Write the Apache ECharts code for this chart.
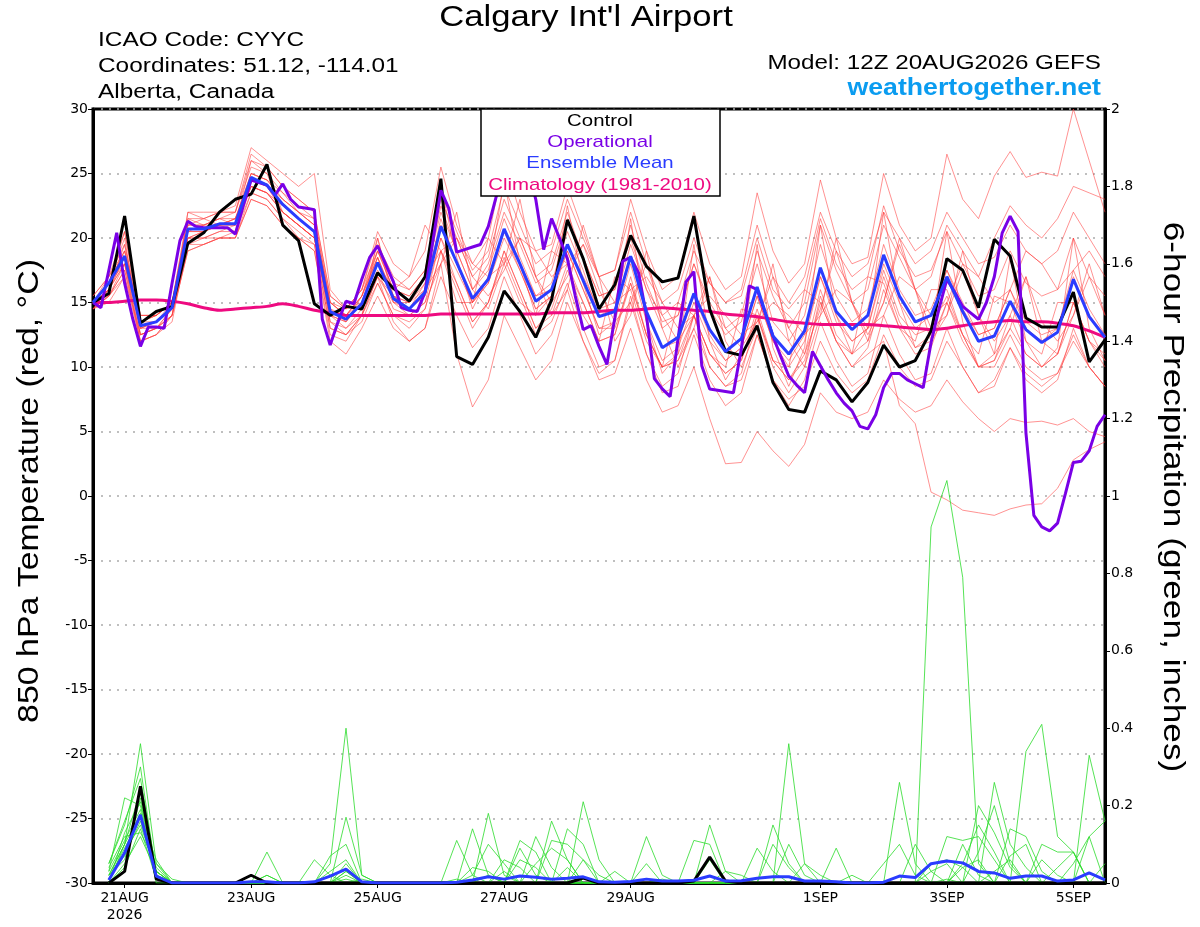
<!DOCTYPE html>
<html>
<head>
<meta charset="utf-8">
<title>Calgary Int'l Airport - GEFS meteogram</title>
<script src="https://cdn.jsdelivr.net/npm/echarts@6/dist/echarts.min.js"></script>
<style>
  html, body { margin: 0; padding: 0; background: #fff; }
  #chart { width: 1200px; height: 927px; }
</style>
</head>
<body>
<div id="chart"></div>
<script>
// x = 6-hour steps from 12Z 20AUG2026 (0) to 12Z 5SEP2026 (64)
const tickSteps = [2, 10, 18, 26, 34, 46, 54, 62];
const tickLabels = ['21AUG\n2026', '23AUG', '25AUG', '27AUG', '29AUG', '1SEP', '3SEP', '5SEP'];

// 850 hPa temperature, deg C, 6-hourly
const control = [15.0,15.7,21.7,13.4,14.3,14.7,19.6,20.4,22.0,23.0, 23.4,25.7,21.0,19.8,14.9,14.0,14.7,14.5,17.3,16.1,
  15.1,17.0,24.6,10.8,10.2,12.3,15.9,14.3,12.3,15.2, 21.4,18.4,14.5,16.4,20.2,17.8,16.6,16.9,21.7,14.5,
  11.2,10.9,13.2,8.8,6.7,6.5,9.7,9.0,7.3,8.8, 11.7,10.0,10.5,12.8,18.4,17.5,14.6,19.9,18.6,13.8, 13.1,13.1,15.8,10.4,12.1];
const ensMean = [15.0,16.5,18.6,13.2,13.5,14.6,20.7,20.7,21.1,21.1, 24.7,24.1,22.6,21.5,20.5,14.3,13.7,14.9,18.1,15.3,
  14.5,15.8,20.9,18.1,15.3,16.8,20.7,18.0,15.1,16.0, 19.5,16.7,13.9,14.3,18.6,14.3,11.5,12.3,15.7,12.9,
  11.2,12.2,16.2,12.4,11.0,12.8,17.7,14.3,12.9,14.0, 18.7,15.5,13.5,14.0,17.0,14.3,12.0,12.4,15.1,12.9, 11.9,12.7,16.8,13.9,12.3];
const climo = [15.0,15.0,15.1,15.2,15.2,15.1,14.9,14.6,14.4,14.5, 14.6,14.7,14.9,14.7,14.4,14.2,14.0,14.0,14.0,14.0,
  14.0,14.0,14.1,14.1,14.1,14.1,14.1,14.1,14.1,14.2, 14.2,14.2,14.3,14.4,14.4,14.5,14.6,14.5,14.4,14.3,
  14.1,14.0,13.9,13.7,13.5,13.4,13.3,13.3,13.3,13.3, 13.2,13.1,13.0,12.9,13.0,13.2,13.4,13.5,13.6,13.5, 13.5,13.4,13.2,12.8,12.3];
// operational run, 3-hourly
const operational = [15.0,14.6,17.5,20.4,16.5,13.8,11.6,13.1,13.1,13.0, 16.5,19.8,21.3,20.9,20.8,20.8,20.8,20.8,20.3,22.5,
  24.5,24.3,24.1,23.3,24.2,23.0,22.4,22.3,22.2,13.7, 11.7,13.5,15.1,14.9,16.8,18.5,19.4,18.0,16.6,14.6,
  14.4,14.3,15.8,19.8,23.7,22.3,18.9,19.1,19.3,19.5, 20.9,23.2,25.5,27.0,27.5,25.5,23.0,19.1,21.5,20.0,
  18.4,15.5,12.9,13.2,11.6,10.2,13.8,18.2,18.5,17.3, 14.0,9.1,8.3,7.7,12.2,16.6,17.4,10.1,8.3,8.2,
  8.1,8.0,11.4,16.3,16.0,14.2,12.4,10.8,9.3,8.6, 8.0,11.2,10.1,9.0,8.0,7.2,6.6,5.4,5.2,6.3,
  8.4,9.5,9.5,9.0,8.7,8.4,11.9,14.5,16.8,15.8, 14.7,14.2,13.7,15.0,17.0,20.4,21.7,20.5,4.9,-1.5,
  -2.4,-2.7,-2.1,0.2,2.6,2.7,3.5,5.4,6.3];

// ensemble members, 850 hPa temperature
const memA = [15,16,19.5,13,13.5,14.5,21,21,21.5,22, 25.5,25,23.5,22,21,14.5,13.5,15,19,16, 15.5,17,22.5,19,16,18,22,19.5,16.5,17.5,
  21.5,18.5,15.5,16,20,16,13,14,18,15, 13,14,19,15.5,13,15,21,17.5,15,16, 21,18.5,16,17,21,19,17,20,22.5,21, 20,21.5,24,23.5,23];
const memB = [14.5,15.5,17,12.5,13,14,19,19.5,20,20.5, 23.5,23,21.5,20,19.5,13,12.5,14,16.5,14, 13.5,14.5,19,16,13,15,19,16,13,14,
  17.5,15,12,12.5,16.5,12.5,10,11,14,11, 9.5,10.5,14,10.5,9,10.5,15,12,10,11, 12,7,5.6,0.3,-0.3,-1.1,-1.3,-1.5,-1.0,-0.7, -0.6,0.6,2.8,3.6,4.2];
const memC = [15,16.5,18,12,12.5,14,19.5,20,20,20, 23,22.5,21,20,19,12,11,13,15.5,13, 12,13,17,14,11.5,13,17,14,11,12.5,
  16,12,9,9.5,13,9,6.5,7,10,6, 2.5,2.6,5,3.5,2.3,4,8,6.5,6,6.5, 9,7.5,6.5,7,9,7.3,6,5,6,5.7, 5.8,5.5,6,5,4.6];
const memD = [15.5,17,20.5,14,14,15,22,22,22,22.5, 27,26,25,24,25,16,14.5,16,20.5,18, 17,19,25.5,21,18,20,26,22,19,19.5,
  24,20.5,17,17.5,23,19,16,17,22,18, 16,17,23.5,19,16.5,18,24.5,20,18,18.5, 25,21,19,20,26.5,23,21.5,24.8,26.7,24.7, 25.1,24.8,30,26,22];
const memE = [15,17,19,14,14,15,21.5,21,21.5,21.5, 25,24.5,23,22,21,15,14,15.5,19,16.5, 16,17.5,23,20,17,18.5,23,20,17,18,
  22,18.5,15.5,16,21,16.5,13.5,14,18,14.5, 12.5,13.5,18,13.5,12,14,19.5,15.5,13.5,14.5, 19.5,16,14,14.5,17.5,15,12.5,13,16,13, 12,13,17,14,12.5];
const memF = [14.5,15.5,17.5,12,12.5,13.5,19.5,19.5,20,20, 23.5,23,21.5,20.5,19.5,13,12.5,13.5,16.5,14, 13,14.5,19,16.5,13.5,15,19,16,13,14.5,
  18,15,12,12.5,17,12.5,10,10.5,14,11, 9.5,10.5,14.5,10.5,9,11,16,12.5,11,12, 17,13.5,11.5,12,15,12.5,10,10.5,13,11, 10,11,15,12,10.5];
const memG = [15,16.5,20,12.5,13,14,22,21.5,21,21, 26,25,22,21,20,13.5,13,14,20,15, 14,15,18,22,16,14.5,18,23,17,14,
  16,21,17,12,14,19,13,10,13,17, 12,10,13,18,12,10,14,20,15,12, 15,20,16,12,14,19,14,11,13,17, 12,11,14,18,14];
const memH = [14.5,16,18,13.5,14,15,20,20.5,21,21, 24,23.5,22.5,21.5,20.5,15,14.5,15,17,15.5, 15,16,18,20,17,15.5,17.5,20,17,15,
  17,19.5,16,13.5,15,18,14,12,14,17, 13,11.5,13.5,17,13,11,14.5,19,15,12.5, 15,19.5,16,13,14,17.5,14,12,14,17, 13.5,12,14,17,14];
const memI = [15,16,18.5,13,13,14.5,20.5,20.5,21,20.5, 24.5,24,22,21,20,14,13,14.5,17.5,14.5, 14,15,20,16.5,13.5,15,18.5,15.5,12.5,13.5,
  16.5,13,10,10.5,15,11,8,8.5,12.5,9, 7,8,12.5,9,7,9,13.5,10.5,8.5,9.5, 14,11,9,9.5,13,10,8,8.5,11.5,9, 8,9,13,10,8.5];
const memJ = [15,16.5,19,13.5,14,15,21,21,21,21.5, 25,24.5,23,22,21.5,15,14,15.5,19.5,17, 16,17.5,23.5,20.5,17.5,19,24,21,18,19,
  23,20,17,17.5,22,18,15,16,20,16.5, 15,15.5,20,16,14.5,16,21.5,18,16,17, 22.5,19,17,17.5,20.5,18,15.5,16,19,16.5, 15.5,16,20,17,15.5];
const memK = [14.5,15,17,12,12.5,14,19,19.5,20,20, 23,22.5,21,20,19,12.5,12,14,17,15, 15,17,19,20,18,17,18,20,19,17,
  18,19.5,17,15,16,17,15,13,14,15.5, 14,12.5,13.5,15,14,12.5,14,16,15,13, 14,17,16,14,15,18,17,15,16,19, 18,16,17.5,19,17];
const memL = [15,16,18,13,13.5,15,20,20.5,21,21.5, 24,23.5,22,21,20,14,13.5,15.5,18.5,15.5, 15,16.5,21,18,15,17,20.5,17.5,14.5,15.5,
  19,16,13,13.5,18,13.5,10.5,11.5,15,12, 10.5,11.5,15.5,12,10,12,17,13.5,12,13, 17.5,14,12.5,13,15.5,12.5,10,10,12.5,10, 9,9.5,12.5,10,8.5];
const memM = [15.5,17,19.5,14,14,15,21,21.5,22,22, 26,25.5,24,23,22,15.5,14.5,16,19,16, 17,21,19,15,15,20,18,15,14,19,
  18,14,12,17,16,12,10,15,14,11, 10,14.5,14,10.5,10,16,15,12,11,17, 16.5,13,12,16,16,12.5,11,15.5,15,12, 11,15,15,12,11];
const memN = [14.5,15.5,18,12.5,13,14,20,20,20.5,20.5, 24,23.5,22,21,20,13.5,12.5,14,17,13.5, 12,13,18,11,6.9,9,14,11.5,9,10.5,
  15,12,9.5,10.5,15.5,11,8.5,9.5,14,10, 8.5,9.5,14,10,8,10,15.5,12,10,11.5, 16,13,11,11.5,15,12,10,10.5,14,11, 10,11,15,12,10];
const memO = [15,16.5,19,13.5,13.5,14.5,20.5,21,21.5,21, 25,24.5,23.5,22.5,21.5,15,14,15,18.5,15.5, 14.5,16,21.5,18,15,16.5,20,17.5,14.5,15.5,
  19.5,17,14.5,15,19.5,16,14,15,19,16.5, 15,16,21,17,15,17,22,19,17,18, 22,20,18,19,22,20,18,18.5,21,19, 18,19,22,20,18];
const memP = [15,15.5,17.5,12.5,13,14.5,20,20,20.5,21, 24,23.5,22,21,20,14,13.5,15,18,16, 15.5,17,22,19,16,17.5,21.5,18.5,15.5,16.5,
  20.5,17.5,14,14.5,18.5,14,11.5,12,15.5,12.5, 10.5,11.5,15.5,12,10.5,12.5,17,14,12,13, 18,15,13,14,17.5,14.5,12.5,13,16,13.5, 12.5,13,17.5,14.5,12.5];
const memQ = [14.5,16,18.5,13,13.5,14.5,20.5,20.5,21,21.5, 24.5,24,23,22,21,14.5,14,15.5,18.5,15, 14.5,15.5,20,17.5,15,16.5,20.5,18,15.5,16,
  19,16,13,13,16.5,12.5,10,10.5,13,10, 8.5,9,12.5,9,7.5,8.5,12,9.5,8,9, 12.5,10,8.5,9,12,10,8,9,11.5,9.5, 8.5,9.5,12,10,8.5];
const memR = [15,16.5,20.5,13.5,14,15,21.5,21.5,22,22, 26.5,25.5,24,23,22,15.5,14.5,16,20,15.5, 14.5,16.5,24,18.5,14.5,17,24.5,18,14,15.5,
  22.5,16.5,12.5,13.5,21.5,13.5,9.5,11,19.5,12, 9,11,19.5,11.5,8.5,11.5,21,14,11,13, 22,15,11.5,12.5,20.5,13.5,10,11,18.5,12, 10,11.5,20,13,10.5];
const tempMembers = [memA, memB, memC, memD, memE, memF, memG, memH, memI, memJ, memK, memL, memM, memN, memO, memP, memQ, memR];

// 6-hour precipitation, inches (first step has none)
const controlPcp = [null,0,.03,.25,.01,0,0,0,0,0, .02,0,0,0,0,0,0,0,0,0, 0,0,0,0,0,0,0,0,0,0, 0,.013,0,0,0,0,0,0,.005,.067,
  .005,0,0,0,0,0,0,0,0,0, 0,0,0,0,0,0,0,0,0,0, 0,0,0,0,0];
const meanPcp = [null,.008,.078,.176,.018,0,0,0,0,0, .003,.003,0,0,.003,.018,.036,.003,0,0, 0,0,0,.002,.008,.016,.01,.018,.015,.01,
  .012,.016,.003,.002,.004,.01,.005,.005,.007,.018, .005,.006,.012,.016,.016,.005,.005,.003,0,0, .002,.018,.014,.05,.057,.052,.03,.026,.012,.018,
  .018,.005,.008,.026,.008];
const pcp01 = [null,.02,.1,.36,.05,0,0,0,0,0, 0,0,0,0,0,.05,.4,.02,0,0, 0,0,0,0,0,.02,0,0,0,0, 0,0,0,0,0,0,0,0,0,0, 0,0,0,0,0,0,0,0,0,0, 0,0,0,.92,1.04,.79,.05,0,0,0, 0,0,0,0,0];
const pcp02 = [null,.03,.22,.2,.02,0,0,0,0,0, 0,.08,0,0,0,0,.17,.02,0,0, 0,0,0,0,.14,.02,0,0,0,0, 0,0,0,0,0,0,0,0,0,0, 0,0,0,0,.36,.05,0,0,0,0, 0,0,0,0,0,0,0,0,0,.34, .41,.12,.08,0,0];
const pcp03 = [null,.05,.16,.27,.03,0,0,0,0,0, 0,0,0,0,0,.07,.1,0,0,0, 0,0,0,0,0,.18,.02,0,0,0, 0,.21,.06,0,0,0,0,0,0,0, 0,0,0,0,0,0,0,0,0,0, 0,.26,.05,0,0,0,0,0,0,0, 0,0,0,.33,.16];
const pcp04 = [null,.02,.1,.18,.04,0,0,0,0,0, 0,0,0,0,.06,.02,0,0,0,0, 0,0,0,.11,.02,0,0,0,0,.16, .06,0,0,0,0,0,0,0,0,.15, .03,0,0,0,0,0,0,0,0,0, 0,0,0,0,0,0,0,.26,.1,.04, 0,0,0,0,0];
const pcp05 = [null,.01,.08,.15,.03,0,0,0,0,0, 0,0,0,0,0,0,.05,0,0,0, 0,0,0,0,0,0,0,.11,.08,0, 0,0,0,0,0,.12,.02,0,0,0, 0,0,0,.15,.05,0,0,0,0,0, 0,0,0,0,0,0,.2,.13,.04,0, 0,0,0,0,0];
const pcp06 = [null,.04,.12,.13,.05,.01,0,0,0,0, 0,.02,0,0,0,0,0,0,0,0, 0,0,0,0,0,0,.06,.04,0,0, 0,0,0,0,0,0,0,0,.11,.1, 0,0,0,0,0,0,0,0,0,0, 0,0,0,0,.12,.11,.12,.06,0,0, 0,0,0,.12,.16];
const pcp07 = [null,.02,.06,.22,.02,0,0,0,0,0, 0,0,0,0,0,0,.02,0,0,0, 0,0,0,0,.02,.1,.05,0,0,0, .14,.1,0,0,0,0,0,0,0,0, 0,0,0,0,0,0,0,.09,0,0, 0,0,0,0,0,.05,.15,.08,0,0, .1,.08,.08,0,0];
const pcp08 = [null,.03,.11,.19,0,0,0,0,0,0, 0,0,0,0,0,0,.03,0,0,0, 0,0,0,0,0,0,0,0,.05,.09, .06,0,0,0,0,0,0,0,0,0, 0,0,.09,.03,0,0,0,0,0,0, 0,0,0,.03,.05,0,0,0,.07,.1, 0,0,0,0,0];
const pcp09 = [null,0,.05,.12,.03,0,0,0,0,0, 0,0,0,0,0,.03,.06,0,0,0, 0,0,0,0,0,0,0,.06,.04,0, 0,0,0,.03,0,0,0,0,0,0, 0,0,0,0,0,.05,.02,0,0,0, .05,.1,.02,0,0,0,0,0,0,0, 0,0,.05,.12,0];
const pcp10 = [null,.01,.09,.17,.06,0,0,0,0,0, 0,0,0,0,0,0,0,0,0,0, 0,0,0,0,0,0,.03,0,0,0, 0,.06,.02,0,0,0,0,0,0,.06, 0,0,0,0,0,0,0,0,0,0, 0,0,.1,.03,0,0,.08,.2,.05,0, 0,0,0,0,0];
const pcp11 = [null,0,.13,.21,.02,0,0,0,0,0, 0,0,0,0,0,0,.01,0,0,0, 0,0,0,0,0,0,0,0,0,.11, .1,.06,0,0,0,0,0,0,0,0, 0,0,0,.1,.04,0,0,0,0,0, 0,0,0,0,.01,0,0,0,0,0, .06,.02,0,0,0];
const pcp12 = [null,.05,.15,.3,.02,0,0,0,0,0, 0,.02,0,0,0,0,0,0,0,0, 0,0,0,0,.04,.03,0,0,0,0, 0,0,0,0,0,0,.01,0,0,0, 0,0,0,0,0,0,0,0,0,0, 0,0,0,0,0,.04,.06,0,.14,.12, .03,0,0,0,0];
const pcp13 = [null,0,.04,.14,.01,0,0,0,0,0, 0,0,0,0,0,0,0,.01,0,0, 0,0,0,0,0,0,0,.09,.02,0, 0,0,0,0,0,.05,0,0,0,0, 0,0,0,0,0,0,0,0,.02,0, 0,0,0,.05,.06,.04,0,0,0,0, 0,0,0,0,.05];
const pcp14 = [null,.02,.07,.16,.03,0,0,0,0,0, 0,0,0,0,0,0,0,0,0,0, 0,0,0,.01,0,0,0,0,0,0, .04,0,0,0,0,0,0,0,0,0, .03,.02,0,0,0,0,0,0,0,0, 0,0,0,0,0,0,0,.03,.06,0, 0,0,0,0,0];
const pcp15 = [null,0,.1,.24,.02,0,0,0,0,0, 0,0,0,0,0,0,.03,0,0,0, 0,0,0,0,0,0,0,0,.12,.04, 0,0,0,0,0,0,0,0,0,0, 0,0,0,0,.1,.02,0,0,0,0, 0,0,0,0,0,.1,.02,0,0,0, 0,.04,.08,0,0];
const pcpMembers = [pcp01, pcp02, pcp03, pcp04, pcp05, pcp06, pcp07, pcp08, pcp09, pcp10, pcp11, pcp12, pcp13, pcp14, pcp15];

const FONT = "'Liberation Sans', Arial, Helvetica, sans-serif";
const TICK_FONT = "'DejaVu Sans', 'Liberation Sans', sans-serif";
const COL_OPER = '#7a00e6';
const COL_MEAN = '#2a3cff';
const COL_CLIMO = '#ee0a80';

const pts6 = arr => arr.map((v, i) => [i, v]).filter(p => p[1] !== null);
const pts3 = arr => arr.map((v, j) => [j / 2, v]);

// text drawn as graphic so it can be widened like the original's X11 Helvetica
const label = (text, x, y, size, sx, opts) => Object.assign({
  type: 'text', x: x, y: y, scaleX: sx, z: 101,
  style: { text: text, font: size + 'px ' + FONT, fill: '#000', align: 'left', verticalAlign: 'middle' }
}, opts || {});

const series = [];
tempMembers.forEach((m, k) => {
  series.push({
    name: 't' + k, type: 'line', data: pts6(m), symbol: 'none', silent: true, z: 2,
    lineStyle: { color: '#ff3c3c', width: 0.7, opacity: 0.8 }
  });
});
pcpMembers.forEach((m, k) => {
  series.push({
    name: 'p' + k, type: 'line', yAxisIndex: 1, data: pts6(m), symbol: 'none', silent: true, z: 2,
    lineStyle: { color: '#2bdc2b', width: 0.8 }
  });
});
series.push(
  { name: 'ctlPcp', type: 'line', yAxisIndex: 1, data: pts6(controlPcp), symbol: 'none', z: 3,
    lineStyle: { color: '#000', width: 3 } },
  { name: 'meanPcp', type: 'line', yAxisIndex: 1, data: pts6(meanPcp), symbol: 'none', z: 3,
    lineStyle: { color: COL_MEAN, width: 3 } },
  { name: 'Climatology', type: 'line', data: pts6(climo), symbol: 'none', z: 3, smooth: 0.3,
    lineStyle: { color: COL_CLIMO, width: 3 } },
  { name: 'Control', type: 'line', data: pts6(control), symbol: 'none', z: 4,
    lineStyle: { color: '#000', width: 3 } },
  { name: 'Operational', type: 'line', data: pts3(operational), symbol: 'none', z: 4,
    lineStyle: { color: COL_OPER, width: 3 } },
  { name: 'Ensemble Mean', type: 'line', data: pts6(ensMean), symbol: 'none', z: 5,
    lineStyle: { color: COL_MEAN, width: 3 } }
);

const chart = echarts.init(document.getElementById('chart'));
chart.setOption({
  animation: false,
  backgroundColor: '#fff',
  textStyle: { fontFamily: FONT },
  grid: { left: 93, right: 95, top: 109, bottom: 44, show: true, borderColor: '#000', borderWidth: 3 },
  xAxis: {
    type: 'value', min: 0, max: 64,
    axisLine: { show: true, onZero: false, lineStyle: { color: '#000', width: 3 } },
    axisTick: { show: true, customValues: tickSteps, length: 5, lineStyle: { color: '#000', width: 1 } },
    axisLabel: {
      customValues: tickSteps, color: '#000', fontSize: 14, fontFamily: TICK_FONT, margin: 7, lineHeight: 17,
      formatter: v => tickLabels[tickSteps.indexOf(v)] || ''
    },
    splitLine: { show: false }
  },
  yAxis: [
    {
      type: 'value', min: -30, max: 30, interval: 5, position: 'left',
      axisLine: { show: true, lineStyle: { color: '#000', width: 3 } },
      axisTick: { show: true, length: 5, lineStyle: { color: '#000' } },
      axisLabel: { color: '#000', fontSize: 14, fontFamily: TICK_FONT, margin: 5 },
      splitLine: { show: true, lineStyle: { color: '#aaa', width: 1.5, type: [2, 6] } }
    },
    {
      type: 'value', min: 0, max: 2, interval: 0.2, position: 'right',
      axisLine: { show: true, lineStyle: { color: '#000', width: 3 } },
      axisTick: { show: true, length: 5, lineStyle: { color: '#000' } },
      axisLabel: { color: '#000', fontSize: 14, fontFamily: TICK_FONT, margin: 6 },
      splitLine: { show: false }
    }
  ],
  graphic: [
    label("Calgary Int'l Airport", 586, 18, 30, 1.155, { style: { text: "Calgary Int'l Airport", font: '30px ' + FONT, fill: '#000', align: 'center', verticalAlign: 'middle' } }),
    label('ICAO Code: CYYC', 98, 40, 20, 1.22),
    label('Coordinates: 51.12, -114.01', 98, 66, 20, 1.22),
    label('Alberta, Canada', 98, 92, 20, 1.22),
    label('Model: 12Z 20AUG2026 GEFS', 1101, 63, 20, 1.21, { style: { text: 'Model: 12Z 20AUG2026 GEFS', font: '20px ' + FONT, fill: '#000', align: 'right', verticalAlign: 'middle' } }),
    label('weathertogether.net', 1101, 89, 23, 1.16, { style: { text: 'weathertogether.net', font: 'bold 23px ' + FONT, fill: '#0a9cf0', align: 'right', verticalAlign: 'middle' } }),
    // axis titles
    label('850 hPa Temperature (red, °C)', 30, 491, 30, 1.13, { rotation: Math.PI / 2, style: { text: '850 hPa Temperature (red, °C)', font: '30px ' + FONT, fill: '#000', align: 'center', verticalAlign: 'middle' } }),
    label('6-hour Precipitation (green, inches)', 1172, 497, 30, 1.175, { rotation: -Math.PI / 2, style: { text: '6-hour Precipitation (green, inches)', font: '30px ' + FONT, fill: '#000', align: 'center', verticalAlign: 'middle' } }),
    // legend box
    { type: 'rect', z: 100, shape: { x: 481, y: 109, width: 239, height: 87 },
      style: { fill: '#fff', stroke: '#000', lineWidth: 1.5 } },
    label('Control', 600, 121, 17, 1.2, { style: { text: 'Control', font: '17px ' + FONT, fill: '#000', align: 'center', verticalAlign: 'middle' } }),
    label('Operational', 600, 142, 17, 1.2, { style: { text: 'Operational', font: '17px ' + FONT, fill: COL_OPER, align: 'center', verticalAlign: 'middle' } }),
    label('Ensemble Mean', 600, 163, 17, 1.2, { style: { text: 'Ensemble Mean', font: '17px ' + FONT, fill: COL_MEAN, align: 'center', verticalAlign: 'middle' } }),
    label('Climatology (1981-2010)', 600, 185, 17, 1.2, { style: { text: 'Climatology (1981-2010)', font: '17px ' + FONT, fill: COL_CLIMO, align: 'center', verticalAlign: 'middle' } })
  ],
  series: series
});
</script>
</body>
</html>
